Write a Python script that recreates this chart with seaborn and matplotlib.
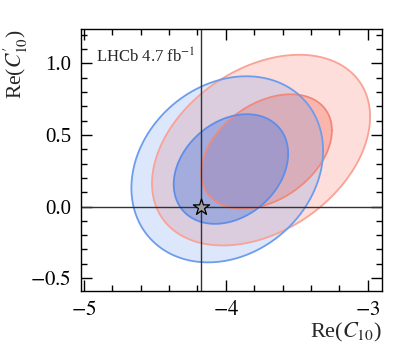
import matplotlib
matplotlib.use("Agg")
import matplotlib.pyplot as plt
import numpy as np
import pandas as pd
import seaborn as sns

# contour parameters: centre, half extents, correlation
names = ["red_outer", "red_inner", "blue_outer", "blue_inner"]
cx = [-3.752, -3.713, -3.99, -3.964]
cy = [0.394, 0.384, 0.26, 0.262]
hx = [0.768, 0.46, 0.675, 0.403]
hy = [0.666, 0.40, 0.65, 0.383]
rho = [0.35, 0.37, 0.2, 0.28]

sm_point = (-4.178, 0.0)
x_ticks = [-5, -4, -3]
y_ticks = [-0.5, 0.0, 0.5, 1.0]

face = ["#fa8072", "#f67a6a", "#6495ed", "#5a7fe0"]
face_alpha = [0.26, 0.40, 0.22, 0.42]
edge = ["#f9a295", "#f2887a", "#6d9cec", "#5f8ee8"]

sns.set_style("ticks")
plt.rcParams["font.family"] = ["Liberation Serif", "DejaVu Serif"]
plt.rcParams["mathtext.fontset"] = "stix"

fig = plt.figure(figsize=(4.07, 3.56), dpi=100)
ax = fig.add_axes([0.199, 0.1826, 0.7396, 0.7359])

t = np.linspace(0, 2 * np.pi, 400)
for i, name in enumerate(names):
    u = np.cos(t)
    v = rho[i] * np.cos(t) + np.sqrt(1 - rho[i] ** 2) * np.sin(t)
    df = pd.DataFrame({"x": cx[i] + hx[i] * u, "y": cy[i] + hy[i] * v})
    ax.fill(df["x"], df["y"], color=face[i], alpha=face_alpha[i], lw=0)
    sns.lineplot(data=df, x="x", y="y", sort=False, estimator=None,
                 color=edge[i], lw=1.3, ax=ax)

ax.axvline(sm_point[0], color="#333333", lw=1.0)
ax.axhline(sm_point[1], color="#333333", lw=1.0)
sns.scatterplot(x=[sm_point[0]], y=[sm_point[1]], marker="*", s=150,
                color="#a0a0a0", edgecolor="black", linewidth=0.9, ax=ax, zorder=5)

ax.set_xlim(-5.02, -2.9)
ax.set_ylim(-0.59, 1.24)
ax.set_xticks(x_ticks)
ax.set_xticklabels(["$-5$", "$-4$", "$-3$"])
ax.set_yticks(y_ticks)
ax.set_yticklabels(["$-0.5$", "0.0", "0.5", "1.0"])
ax.xaxis.set_minor_locator(matplotlib.ticker.MultipleLocator(0.2))
ax.yaxis.set_minor_locator(matplotlib.ticker.MultipleLocator(0.1))
ax.tick_params(which="both", direction="in", top=True, right=True,
               labelsize=15, colors="black")
ax.tick_params(which="major", length=8, width=1.0, pad=7)
ax.tick_params(which="minor", length=4, width=1.0)
for s in ax.spines.values():
    s.set_linewidth(1.0)
    s.set_color("black")

ax.set_xlabel(r"Re($C_{10}$)", fontsize=16, loc="right", labelpad=1)
ax.set_ylabel(r"Re($C_{10}^{\prime}$)", fontsize=15.5, loc="top", labelpad=0)
ax.text(0.05, 0.93, r"LHCb 4.7 fb$^{-1}$", transform=ax.transAxes,
        fontsize=12, va="top", ha="left")

fig.savefig("out.png", dpi=100)
